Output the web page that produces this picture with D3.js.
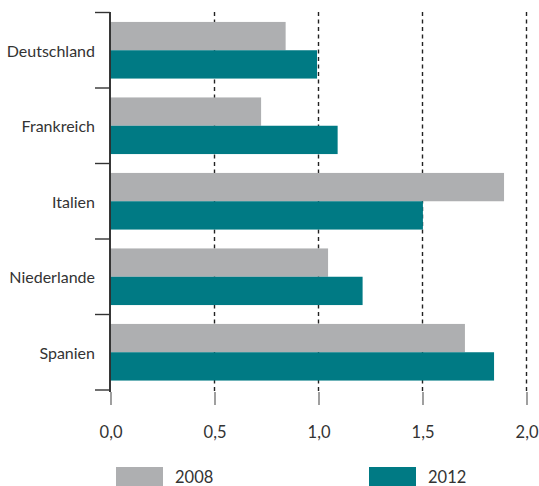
<!DOCTYPE html>
<html>
<head>
<meta charset="utf-8">
<script src="https://cdn.jsdelivr.net/npm/d3@7"></script>
<style>
  html, body { margin: 0; padding: 0; background: #fff; }
  svg { display: block; }
  text { font-family: Lato, "Open Sans", sans-serif; fill: #333; }
</style>
</head>
<body>
<svg id="chart" width="539" height="486"></svg>
<script>
const categories = ["Deutschland", "Frankreich", "Italien", "Niederlande", "Spanien"];
const seriesNames = ["2008", "2012"];
const values2008 = [0.842, 0.724, 1.892, 1.046, 1.704];
const values2012 = [0.993, 1.092, 1.502, 1.212, 1.844];
const xTicks = [0, 0.5, 1.0, 1.5, 2.0];
const colors = ["#aeafb1", "#007a84"];

const svg = d3.select("#chart");
const x = d3.scaleLinear().domain([0, 2]).range([110.5, 526.5]);
const y = d3.scaleBand().domain(categories).range([12.5, 390]).paddingInner(0.25).paddingOuter(0.125);
const ySub = d3.scaleBand().domain(seriesNames).range([0, y.bandwidth()]);
const seriesData = [values2008, values2012];

// dashed gridlines
const grid = svg.append("g");
xTicks.filter(d => d > 0).forEach(t => {
  grid.append("line")
    .attr("x1", x(t)).attr("x2", x(t))
    .attr("y1", 12).attr("y2", 392)
    .attr("stroke", "#222").attr("stroke-width", 1.4)
    .attr("stroke-dasharray", "4,3.5");
});

// bars
categories.forEach((c, i) => {
  seriesNames.forEach((s, j) => {
    svg.append("rect")
      .attr("x", x(0))
      .attr("y", y(c) + ySub(s))
      .attr("width", x(seriesData[j][i]) - x(0))
      .attr("height", ySub.bandwidth())
      .attr("fill", colors[j]);
  });
});

// x axis (ticks + labels)
const xAxis = d3.axisBottom(x).tickValues(xTicks).tickSize(13).tickFormat(d => d3.format(".1f")(d).replace(".", ","));
const gx = svg.append("g").attr("transform", "translate(0,392)").call(xAxis);
gx.select(".domain").remove();
gx.selectAll(".tick line").attr("stroke", "#888").attr("stroke-width", 1.6);
gx.selectAll(".tick text").attr("dy", 0).attr("y", 46).style("font-size", "16.5px").attr("fill", "#333");

// y axis line
svg.append("line").attr("x1", 110).attr("x2", 110).attr("y1", 12).attr("y2", 392)
  .attr("stroke", "#222").attr("stroke-width", 1.8);
// y boundary ticks
const step = y.step();
const top0 = y(categories[0]) - y.paddingOuter() * step;
d3.range(categories.length + 1).forEach(i => {
  svg.append("line").attr("x1", 95).attr("x2", 110)
    .attr("y1", top0 + i * step).attr("y2", top0 + i * step)
    .attr("stroke", "#333").attr("stroke-width", 1.4);
});
// y labels
categories.forEach(c => {
  svg.append("text")
    .attr("x", 95).attr("y", y(c) + y.bandwidth() / 2)
    .attr("text-anchor", "end").attr("dominant-baseline", "central")
    .style("font-size", "16px")
    .text(c);
});

// legend
const legendX = [116, 369];
seriesNames.forEach((s, j) => {
  svg.append("rect").attr("x", legendX[j]).attr("y", 467).attr("width", 47).attr("height", 20).attr("fill", colors[j]);
  svg.append("text").attr("x", legendX[j] + 59).attr("y", 483)
    .style("font-size", "16.5px").text(s);
});
</script>
</body>
</html>
